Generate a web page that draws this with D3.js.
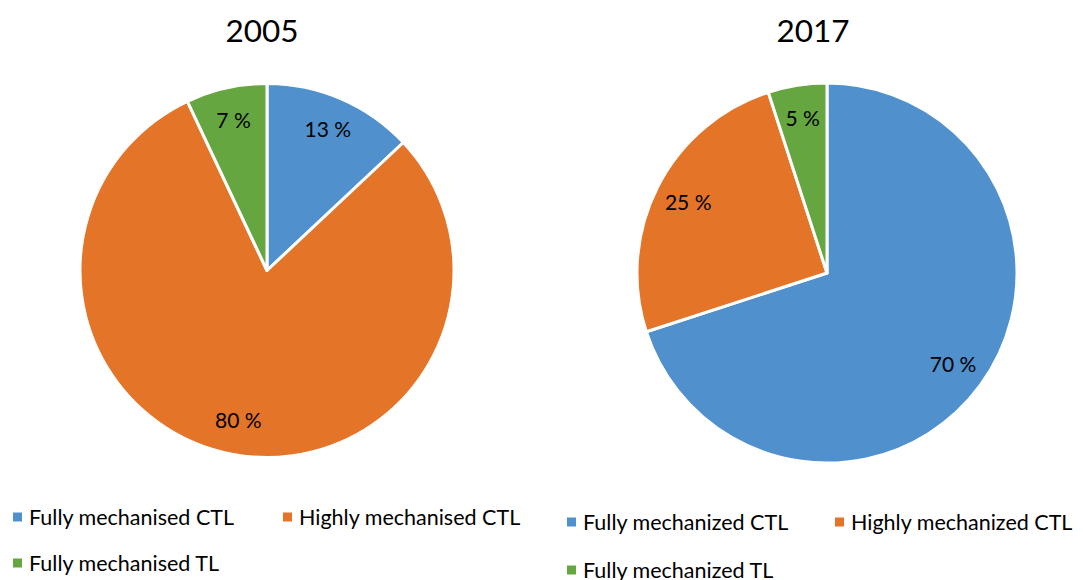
<!DOCTYPE html>
<html>
<head>
<meta charset="utf-8">
<script src="https://cdn.jsdelivr.net/npm/d3@7"></script>
<style>
  body { margin: 0; background: #fff; }
  svg text { font-family: Lato, "Open Sans", sans-serif; fill: #000; }
</style>
</head>
<body>
<div id="chart"></div>
<script>
// data
const years = ['2005', '2017'];
const labels2005 = ['Fully mechanised CTL', 'Highly mechanised CTL', 'Fully mechanised TL'];
const labels2017 = ['Fully mechanized CTL', 'Highly mechanized CTL', 'Fully mechanized TL'];
const values2005 = [13, 80, 7];
const values2017 = [70, 25, 5];
const colors = ['#4f90cd', '#e37428', '#66a640'];

const svg = d3.select('#chart').append('svg')
    .attr('width', 1083)
    .attr('height', 580);

// one pie per year
const pies = [
    { title: years[0], cx: 267, cy: 270.5, r: 187, titleX: 262, values: values2005, names: labels2005,
      legend: { x: 13, y: 517, col2: 283, row2: 563 } },
    { title: years[1], cx: 827, cy: 273, r: 190, titleX: 813, values: values2017, names: labels2017,
      legend: { x: 567, y: 522, col2: 835, row2: 570 } }
];

const pie = d3.pie().sort(null).value(d => d);

pies.forEach(p => {
    const g = svg.append('g').attr('transform', `translate(${p.cx},${p.cy})`);
    const arc = d3.arc().innerRadius(0).outerRadius(p.r);
    const labelArc = d3.arc().innerRadius(p.r * 0.82).outerRadius(p.r * 0.82);
    const arcs = pie(p.values);

    g.selectAll('path')
        .data(arcs)
        .enter().append('path')
        .attr('d', arc)
        .attr('fill', (d, i) => colors[i])
        .attr('stroke', '#fff')
        .attr('stroke-width', 3)
        .attr('stroke-linejoin', 'round');

    g.selectAll('text')
        .data(arcs)
        .enter().append('text')
        .attr('transform', d => `translate(${labelArc.centroid(d)})`)
        .attr('text-anchor', 'middle')
        .attr('dy', '0.35em')
        .style('font-size', '21px')
        .text(d => d.data + ' %');

    svg.append('text')
        .attr('x', p.titleX)
        .attr('y', 42)
        .attr('text-anchor', 'middle')
        .style('font-size', '31.5px')
        .text(p.title);

    // legend
    const pos = [
        [p.legend.x, p.legend.y],
        [p.legend.col2, p.legend.y],
        [p.legend.x, p.legend.row2]
    ];
    const lg = svg.append('g');
    p.names.forEach((name, i) => {
        lg.append('rect')
            .attr('x', pos[i][0])
            .attr('y', pos[i][1] - 4.5)
            .attr('width', 9)
            .attr('height', 9)
            .attr('fill', colors[i]);
        lg.append('text')
            .attr('x', pos[i][0] + 16)
            .attr('y', pos[i][1])
            .attr('dy', '0.35em')
            .style('font-size', '21.5px')
            .text(name);
    });
});
</script>
</body>
</html>
